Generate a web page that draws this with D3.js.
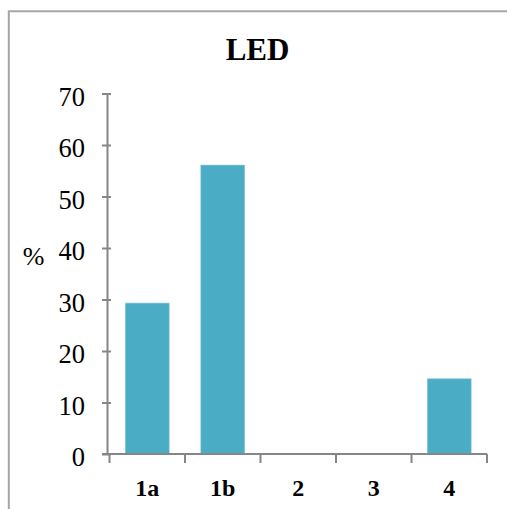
<!DOCTYPE html>
<html><head><meta charset="utf-8">
<script src="https://cdn.jsdelivr.net/npm/d3@7"></script>
<style>html,body{margin:0;padding:0;background:#fff;overflow:hidden}svg{display:block}</style>
</head><body>
<script>
const categories = ["1a","1b","2","3","4"];
const values = [29.3, 56.1, 0, 0, 14.6];
const yTicks = [0,10,20,30,40,50,60,70];
const title = "LED";
const yLabel = "%";

const W = 507, H = 509;
const FONT = '"Liberation Serif","Times New Roman",serif';
const svg = d3.select("body").append("svg").attr("width", W).attr("height", H);
svg.append("rect").attr("width", W).attr("height", H).attr("fill", "#fff");
// outer chart border: only top and left edges are visible in the view
svg.append("path").attr("d", `M8.8,${H}V11.3H${W}`)
  .attr("fill", "none").attr("stroke", "#A6A6A6").attr("stroke-width", 2);

const x0 = 107, x1 = 487, yTop = 93.5, yBot = 454;
const x = d3.scaleBand().domain(categories).range([x0 + 2.5, x1]).paddingInner(0.42).paddingOuter(0.21);
const y = d3.scaleLinear().domain([0, 70]).range([yBot, yTop]);

svg.append("text").attr("x", 257.5).attr("y", 59.5).attr("text-anchor", "middle")
  .style("font-family", FONT).attr("font-weight", "bold").attr("font-size", 31)
  .text(title);

// bars
svg.selectAll("rect.bar").data(categories.map((c, i) => ({c, v: values[i]})).filter(d => d.v > 0))
  .enter().append("rect").attr("class", "bar")
  .attr("x", d => x(d.c)).attr("width", x.bandwidth())
  .attr("y", d => y(d.v)).attr("height", d => y(0) - y(d.v))
  .attr("fill", "#4BACC6").attr("stroke", "#7FC6D8").attr("stroke-width", 0.6);

// y axis
const yAxis = svg.append("g").attr("transform", `translate(${x0},0)`)
  .call(d3.axisLeft(y).tickValues(yTicks).tickSize(0).tickPadding(22).tickFormat(d3.format("d")));
yAxis.attr("font-family", null).attr("font-size", null);
yAxis.select(".domain").attr("stroke", "#868686").attr("stroke-width", 2);
yAxis.selectAll(".tick").append("line").attr("x1", -5).attr("x2", 4)
  .attr("stroke", "#868686").attr("stroke-width", 2);
yAxis.selectAll("text").style("font-family", FONT).attr("font-size", 26.5).attr("fill", "#000")
  .attr("dy", "0.45em");

// x axis
const xa = svg.append("g").attr("transform", `translate(0,${yBot})`);
xa.append("line").attr("x1", x0 - 5).attr("x2", x1).attr("stroke", "#868686").attr("stroke-width", 2);
const step = x.step();
const bounds = d3.range(categories.length + 1).map(i => x0 + 2.5 + i * step);
xa.selectAll("line.t").data(bounds).enter().append("line").attr("class", "t")
  .attr("x1", d => d).attr("x2", d => d).attr("y1", 0).attr("y2", 9)
  .attr("stroke", "#868686").attr("stroke-width", 2);
xa.selectAll("text").data(categories).enter().append("text")
  .attr("x", d => x(d) + x.bandwidth() / 2).attr("y", 42).attr("text-anchor", "middle")
  .style("font-family", FONT).attr("font-weight", "bold").attr("font-size", 24)
  .text(d => d);

svg.append("text").attr("x", 33.5).attr("y", 264.5).attr("text-anchor", "middle")
  .style("font-family", FONT).attr("font-size", 26).text(yLabel);
</script>
</body></html>
